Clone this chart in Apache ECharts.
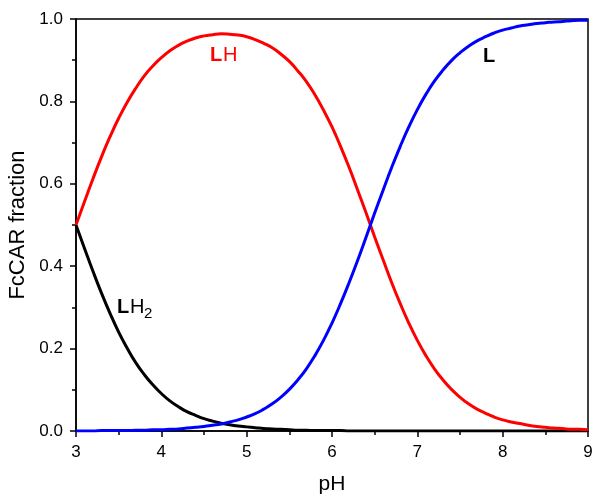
<!DOCTYPE html>
<html>
<head>
<meta charset="utf-8">
<script src="https://cdn.jsdelivr.net/npm/echarts@6/dist/echarts.min.js"></script>
<style>
  html, body { margin: 0; padding: 0; background: #fff; }
  #main { width: 593px; height: 497px; }
</style>
</head>
<body>
<div id="main"></div>
<script>
// pH grid and species fractions
const pH = [3.0, 3.1, 3.2, 3.3, 3.4, 3.5, 3.6, 3.7, 3.8, 3.9,
            4.0, 4.1, 4.2, 4.3, 4.4, 4.5, 4.6, 4.7, 4.8, 4.9,
            5.0, 5.1, 5.2, 5.3, 5.4, 5.5, 5.6, 5.7, 5.8, 5.9,
            6.0, 6.1, 6.2, 6.3, 6.4, 6.5, 6.6, 6.7, 6.8, 6.9,
            7.0, 7.1, 7.2, 7.3, 7.4, 7.5, 7.6, 7.7, 7.8, 7.9,
            8.0, 8.1, 8.2, 8.3, 8.4, 8.5, 8.6, 8.7, 8.8, 8.9, 9.0];
const LH2 = [0.500, 0.443, 0.387, 0.334, 0.285, 0.240, 0.201, 0.166, 0.137, 0.112,
             0.091, 0.073, 0.059, 0.047, 0.038, 0.030, 0.024, 0.019, 0.015, 0.012,
             0.010, 0.008, 0.006, 0.005, 0.004, 0.003, 0.002, 0.002, 0.001, 0.001,
             0.001, 0.001, 0.000, 0.000, 0.000, 0.000, 0.000, 0.000, 0.000, 0.000,
             0.000, 0.000, 0.000, 0.000, 0.000, 0.000, 0.000, 0.000, 0.000, 0.000,
             0.000, 0.000, 0.000, 0.000, 0.000, 0.000, 0.000, 0.000, 0.000, 0.000, 0.000];
const LH = [0.500, 0.557, 0.613, 0.666, 0.715, 0.759, 0.798, 0.832, 0.862, 0.886,
            0.906, 0.923, 0.936, 0.946, 0.954, 0.959, 0.962, 0.964, 0.963, 0.961,
            0.957, 0.950, 0.941, 0.930, 0.915, 0.897, 0.874, 0.848, 0.816, 0.779,
            0.738, 0.691, 0.640, 0.585, 0.529, 0.471, 0.415, 0.360, 0.309, 0.262,
            0.220, 0.183, 0.151, 0.124, 0.101, 0.082, 0.066, 0.053, 0.043, 0.034,
            0.027, 0.022, 0.018, 0.014, 0.011, 0.009, 0.007, 0.006, 0.004, 0.004, 0.003];
const L = [0.000, 0.000, 0.000, 0.001, 0.001, 0.001, 0.001, 0.002, 0.002, 0.003,
           0.003, 0.004, 0.005, 0.007, 0.009, 0.011, 0.014, 0.017, 0.022, 0.027,
           0.034, 0.042, 0.053, 0.066, 0.082, 0.101, 0.124, 0.151, 0.183, 0.220,
           0.262, 0.309, 0.360, 0.414, 0.471, 0.529, 0.585, 0.640, 0.691, 0.738,
           0.780, 0.817, 0.849, 0.876, 0.899, 0.918, 0.934, 0.947, 0.957, 0.966,
           0.973, 0.978, 0.983, 0.986, 0.989, 0.991, 0.993, 0.994, 0.996, 0.997, 0.997];

const FONT = 'Liberation Sans, Arial, sans-serif';

function pairs(ys) {
    let out = [];
    for (let i = 0; i < pH.length; i++) {
        out.push([pH[i], ys[i]]);
    }
    return out;
}

function curve(name, ys, color) {
    return {
        name: name,
        type: 'line',
        data: pairs(ys),
        smooth: true,
        showSymbol: false,
        lineStyle: { color: color, width: 3 },
        z: 3
    };
}

let myChart = echarts.init(document.getElementById('main'), null, { renderer: 'canvas' });

let option = {
    backgroundColor: '#fff',
    animation: false,
    grid: {
        left: 76, right: 5, top: 19, bottom: 66,
        outerBoundsMode: 'none',
        containLabel: false,
        show: true, borderColor: '#000', borderWidth: 1.5
    },
    xAxis: {
        type: 'value',
        min: 3, max: 9, interval: 1,
        name: 'pH',
        nameLocation: 'middle',
        nameGap: 43,
        nameTextStyle: { fontFamily: FONT, fontSize: 21, color: '#000' },
        axisLine: { show: true, lineStyle: { color: '#000', width: 1.5 } },
        axisTick: { show: true, length: 6, lineStyle: { color: '#000', width: 1.5 } },
        minorTick: { show: true, splitNumber: 2, length: 4, lineStyle: { color: '#000', width: 1.5 } },
        axisLabel: { fontFamily: FONT, fontSize: 17, color: '#000', margin: 13 },
        splitLine: { show: false }
    },
    yAxis: {
        type: 'value',
        min: 0, max: 1, interval: 0.2,
        name: 'FcCAR fraction',
        nameLocation: 'middle',
        nameGap: 44,
        nameTextStyle: { fontFamily: FONT, fontSize: 22, color: '#000' },
        axisLine: { show: true, lineStyle: { color: '#000', width: 1.5 } },
        axisTick: { show: true, length: 6, lineStyle: { color: '#000', width: 1.5 } },
        minorTick: { show: true, splitNumber: 2, length: 4, lineStyle: { color: '#000', width: 1.5 } },
        axisLabel: {
            fontFamily: FONT, fontSize: 17, color: '#000', margin: 13,
            formatter: v => v.toFixed(1)
        },
        splitLine: { show: false }
    },
    series: [
        curve('LH2', LH2, '#000000'),
        curve('LH', LH, '#ff0000'),
        curve('L', L, '#0000ff')
    ],
    graphic: [
        { type: 'text', x: 210, y: 55, style: { text: 'L', font: 'bold 20px ' + FONT, fill: '#ff0000', verticalAlign: 'middle' } },
        { type: 'text', x: 223, y: 55, style: { text: 'H', font: '20px ' + FONT, fill: '#ff0000', verticalAlign: 'middle' } },
        { type: 'text', x: 483, y: 56, style: { text: 'L', font: 'bold 20px ' + FONT, fill: '#000', verticalAlign: 'middle' } },
        { type: 'text', x: 117, y: 307, style: { text: 'L', font: 'bold 20px ' + FONT, fill: '#000', verticalAlign: 'middle' } },
        { type: 'text', x: 130, y: 307, style: { text: 'H', font: '20px ' + FONT, fill: '#000', verticalAlign: 'middle' } },
        { type: 'text', x: 144, y: 314, style: { text: '2', font: '15px ' + FONT, fill: '#000', verticalAlign: 'middle' } }
    ]
};

myChart.setOption(option);
</script>
</body>
</html>
